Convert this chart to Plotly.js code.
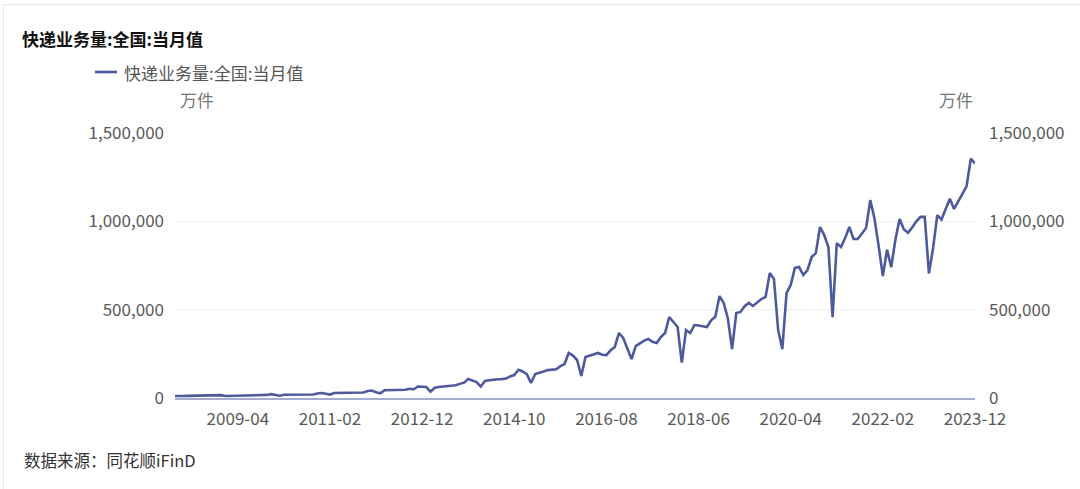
<!DOCTYPE html>
<html>
<head>
<meta charset="utf-8">
<script src="https://cdn.plot.ly/plotly-3.0.1.min.js"></script>
<style>
html,body{margin:0;padding:0;background:#fff;}
#wrap{position:relative;width:1080px;height:489px;overflow:hidden;}
#frame{position:absolute;left:3px;top:4px;width:1090px;height:500px;border-top:1px solid #e9e9e9;border-left:1px solid #e9e9e9;pointer-events:none;}
#chart{width:1080px;height:489px;}
</style>
</head>
<body>
<div id="wrap"><div id="chart"></div><div id="frame"></div></div>
<script>
// Monthly express delivery volume (万件), 2008-01 .. 2023-12
const years = [2008,2009,2010,2011,2012,2013,2014,2015,2016,2017,2018,2019,2020,2021,2022,2023];
const months = ['01','02','03','04','05','06','07','08','09','10','11','12'];
const v2008 = [11000, 9500, 11500, 12000, 12300, 12400, 12600, 12800, 13500, 13200, 13800, 16000];
const v2009 = [11500, 11800, 14500, 14800, 15000, 15300, 15300, 15500, 16600, 15800, 17500, 22000];
const v2010 = [17000, 13000, 18000, 18500, 19000, 19500, 19000, 19500, 21500, 20000, 25500, 28500];
const v2011 = [24000, 19500, 28000, 29000, 29500, 30000, 29500, 30500, 33000, 31500, 40000, 42500];
const v2012 = [33000, 27000, 43500, 44000, 46000, 46500, 46000, 47000, 52000, 49500, 65000, 64000];
const v2013 = [62000, 36000, 58000, 62000, 65000, 67000, 68000, 72000, 80000, 87000, 107000, 100000];
const v2014 = [90000, 65000, 96000, 100000, 104000, 106000, 107000, 110000, 122000, 130000, 160000, 150000];
const v2015 = [135000, 85000, 136000, 145000, 150000, 158000, 160000, 163000, 180000, 192000, 255000, 240000];
const v2016 = [215000, 125000, 232000, 240000, 250000, 255000, 245000, 243000, 270000, 289000, 368000, 340000];
const v2017 = [280000, 220000, 294000, 310000, 325000, 334000, 318000, 311000, 345000, 368000, 458000, 430000];
const v2018 = [402000, 200000, 385000, 368000, 413000, 410000, 405000, 402000, 440000, 460000, 577000, 538000];
const v2019 = [450000, 277000, 481000, 487000, 520000, 538000, 521000, 540000, 560000, 572000, 707000, 673000];
const v2020 = [385000, 277000, 594000, 640000, 736000, 741000, 696000, 724000, 798000, 820000, 968000, 922000];
const v2021 = [854000, 458000, 877000, 854000, 905000, 968000, 900000, 900000, 930000, 962000, 1120000, 1015000];
const v2022 = [860000, 690000, 840000, 740000, 897000, 1013000, 955000, 935000, 965000, 1000000, 1025000, 1025000];
const v2023 = [705000, 850000, 1035000, 1010000, 1070000, 1128000, 1070000, 1110000, 1155000, 1200000, 1355000, 1328000];
const tickLabels = ['2009-04','2011-02','2012-12','2014-10','2016-08','2018-06','2020-04','2022-02','2023-12'];
const yTicks = [0, 500000, 1000000, 1500000];
const seriesName = '快递业务量:全国:当月值';

const categories = [];
years.forEach(y => months.forEach(m => categories.push(y + '-' + m)));
const values = [].concat(v2008, v2009, v2010, v2011, v2012, v2013, v2014, v2015,
                         v2016, v2017, v2018, v2019, v2020, v2021, v2022, v2023);

const FONT = '"Noto Sans CJK SC", "Noto Sans", sans-serif';
const LINE = '#4e5a9c';
const L = 175, R = 105, T = 133, B = 91;
const W = 1080, H = 489;
const pw = W - L - R, ph = H - T - B;
const px = x => (x - L) / pw;
const py = y => (H - B - y) / ph;

const traces = [
  {
    x: categories, y: values, type: 'scatter', mode: 'lines', name: seriesName,
    line: {color: LINE, width: 2.6}, hoverinfo: 'x+y', showlegend: false
  },
  {
    x: categories, y: values, type: 'scatter', mode: 'lines', yaxis: 'y2',
    line: {color: 'rgba(0,0,0,0)', width: 0}, showlegend: false, hoverinfo: 'skip'
  }
];

const layout = {
  width: W, height: H,
  margin: {l: L, r: R, t: T, b: B, pad: 0},
  paper_bgcolor: '#ffffff', plot_bgcolor: '#ffffff',
  font: {family: FONT, size: 17, color: '#595959'},
  title: {
    text: seriesName, xref: 'container', yref: 'container',
    x: 22 / W, xanchor: 'left', y: 1 - 40 / H, yanchor: 'middle',
    font: {family: FONT, size: 17, color: '#111111', weight: 700}
  },
  showlegend: false,
  xaxis: {
    type: 'category', range: [0, categories.length - 1], autorange: false,
    tickmode: 'array', tickvals: tickLabels, ticktext: tickLabels,
    showgrid: false, zeroline: false, showline: true, linecolor: '#a4acd0', linewidth: 1.5,
    ticks: '', ticklabelstandoff: 5,
    tickfont: {family: FONT, size: 17, color: '#595959'}, fixedrange: true
  },
  yaxis: {
    range: [0, 1500000], autorange: false, tickmode: 'array', tickvals: yTicks,
    tickformat: ',d', showgrid: true, gridcolor: '#efefef', gridwidth: 1,
    zeroline: false, showline: false, ticks: '', ticklabelstandoff: 10,
    tickfont: {family: FONT, size: 17, color: '#595959'}, fixedrange: true
  },
  yaxis2: {
    overlaying: 'y', side: 'right', range: [0, 1500000], autorange: false,
    tickmode: 'array', tickvals: yTicks, tickformat: ',d', showgrid: false,
    zeroline: false, showline: false, ticks: '', ticklabelstandoff: 13,
    tickfont: {family: FONT, size: 17, color: '#595959'}, fixedrange: true
  },
  shapes: [
    {type: 'line', xref: 'paper', yref: 'paper', x0: px(95), x1: px(117), y0: py(72), y1: py(72),
     line: {color: LINE, width: 2.6}}
  ],
  annotations: [
    {text: seriesName, xref: 'paper', yref: 'paper', x: px(122), y: py(72), xanchor: 'left', yanchor: 'middle',
     showarrow: false, font: {family: FONT, size: 17, color: '#555555'}},
    {text: '万件', xref: 'paper', yref: 'paper', x: px(178), y: py(99), xanchor: 'left', yanchor: 'middle',
     showarrow: false, font: {family: FONT, size: 17, color: '#777777'}},
    {text: '万件', xref: 'paper', yref: 'paper', x: px(975), y: py(99), xanchor: 'right', yanchor: 'middle',
     showarrow: false, font: {family: FONT, size: 17, color: '#777777'}},
    {text: '数据来源：同花顺iFinD', xref: 'paper', yref: 'paper', x: px(22), y: py(460), xanchor: 'left', yanchor: 'middle',
     showarrow: false, font: {family: FONT, size: 16.5, color: '#333333'}}
  ]
};

Plotly.newPlot('chart', traces, layout, {displayModeBar: false, staticPlot: true});
</script>
</body>
</html>
